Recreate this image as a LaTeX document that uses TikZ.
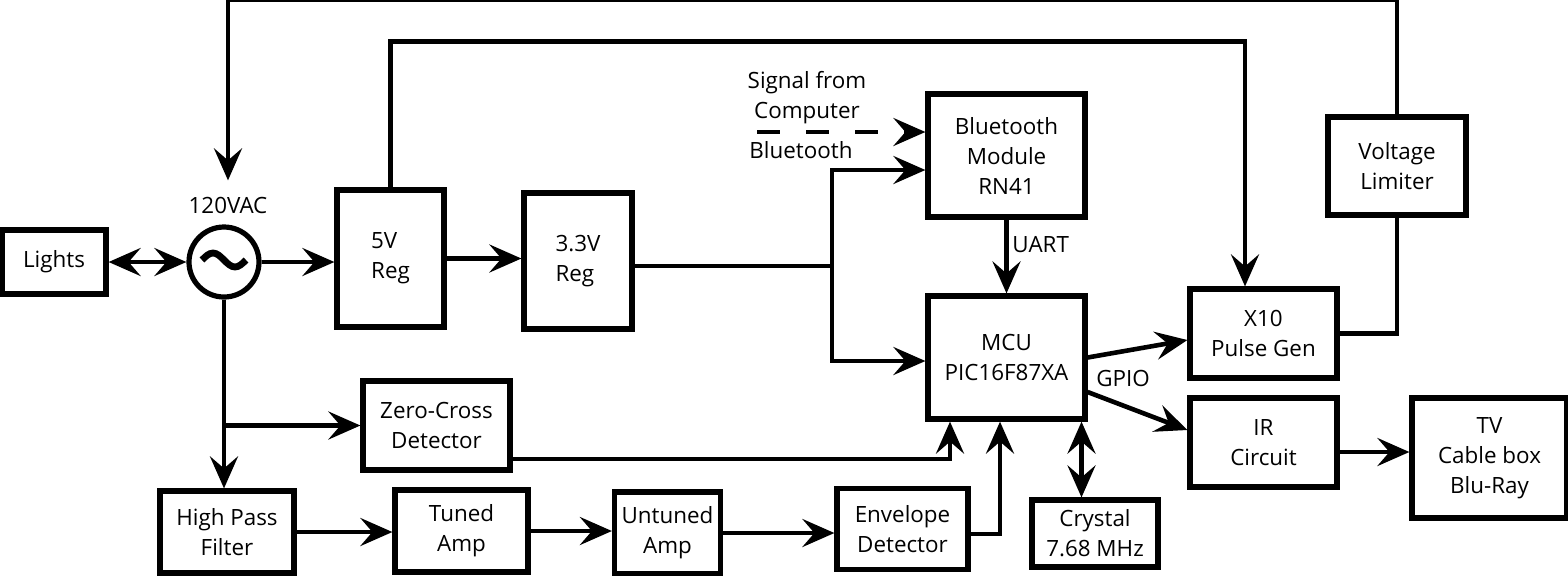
\documentclass[tikz,border=0pt]{standalone}
\usepackage{fontspec}
\setmainfont{Open Sans}
\usepackage{tikz}
\usetikzlibrary{arrows.meta}

\begin{document}
\begin{tikzpicture}[
  x=0.5pt,y=-0.5pt,
  font=\fontsize{11.2}{15}\selectfont,
  blk/.style={draw,line width=2.6pt,align=center,inner sep=0pt},
  wire/.style={line width=2.3pt},
  arr/.style={-{Stealth[length=16pt,width=14pt,inset=6pt]},line width=2.3pt},
  dbl/.style={{Stealth[length=16pt,width=14pt,inset=6pt]}-{Stealth[length=16pt,width=14pt,inset=6pt]},line width=2.3pt},
  lbl/.style={inner sep=0pt,align=center}
]
\useasboundingbox (0,0) rectangle (1568,575);

\node[blk,minimum width=52pt,minimum height=32pt] (lights) at (54,262) {Lights};
\node[draw,circle,line width=2.6pt,minimum size=35pt,inner sep=0pt] (acsrc) at (224,262) {};
\draw[line width=3.4pt] ([xshift=-11pt,yshift=1pt]acsrc.center) sin ++(5.5pt,3.5pt) cos ++(5.5pt,-3.5pt) sin ++(5.5pt,-3.5pt) cos ++(5.5pt,3.5pt);
\node[lbl,inner sep=8pt] (vac) at (228,205) {120VAC};

\node[blk,align=left,minimum width=53.5pt,minimum height=68.5pt] (fivereg) at (390.5,258.5) {5V\\Reg};
\node[blk,align=left,minimum width=54pt,minimum height=68pt] (threereg) at (578,261) {3.3V\\Reg};
\node[blk,minimum width=78.5pt,minimum height=61.5pt] (bt) at (1006.5,155.5) {Bluetooth\\Module\\RN41};
\node[blk,minimum width=78.5pt,minimum height=61.5pt] (mcu) at (1006.5,357.5) {MCU\\PIC16F87XA};
\node[blk,minimum width=69pt,minimum height=49pt] (vlim) at (1397,166) {Voltage\\Limiter};
\node[blk,minimum width=73.5pt,minimum height=44.5pt] (xten) at (1263.5,333.5) {X10\\Pulse Gen};
\node[blk,minimum width=73.5pt,minimum height=44.5pt] (ir) at (1263.5,442.5) {IR\\Circuit};
\node[blk,minimum width=77.5pt,minimum height=60pt] (tv) at (1489.5,458) {TV\\Cable box\\Blu-Ray};
\node[blk,minimum width=63pt,minimum height=33.5pt] (crystal) at (1095,533.5) {Crystal\\7.68 MHz};
\node[blk,minimum width=73.5pt,minimum height=44.5pt] (zc) at (436.5,425.5) {Zero-Cross\\Detector};
\node[blk,minimum width=67pt,minimum height=41pt] (hpf) at (227,532) {High Pass\\Filter};
\node[blk,minimum width=66.5pt,minimum height=41pt] (tuned) at (461.5,531) {Tuned\\Amp};
\node[blk,minimum width=53pt,minimum height=41pt] (untuned) at (667.5,533) {Untuned\\Amp};
\node[blk,minimum width=65.5pt,minimum height=40.5pt] (env) at (902.5,529) {Envelope\\Detector};

\node[lbl] (sigtxt) at (807,98) {Signal from\\Computer};
\node[lbl] (bttxt) at (801,150) {Bluetooth};
\node[lbl,anchor=west] (uart) at (1012,245) {UART};
\node[lbl] (gpio) at (1123,378) {GPIO};

\coordinate (split) at (832,266);
\coordinate (sigstart) at (757,132);

\draw[dbl] (lights) -- (acsrc);
\draw[arr] (acsrc) -- (acsrc -| fivereg.west);
\draw[arr] (fivereg.east) -- (fivereg.east -| threereg.west);
\draw[wire] (threereg.east |- split) -- (split);
\draw[arr] (split) |- ([yshift=-7.25pt]bt.west);
\draw[arr] (split) |- ([yshift=-1.75pt]mcu.west);
\draw[arr,dash pattern=on 11.5pt off 13pt] (sigstart) -- (sigstart -| bt.west);
\draw[arr] (bt) -- (mcu);
\draw[arr] (fivereg.north) -- ++(0,-146) -| ([xshift=-9.25pt]xten.north);
\draw[arr] (vlim.north) -- ++(0,-115) -| (vac.north);
\draw[wire] (xten.east) -| (vlim.south);
\draw[arr] (mcu.east) -- ([yshift=-3.25pt]xten.west);
\draw[arr] ([yshift=-17.25pt]mcu.east) -- ([yshift=6.25pt]ir.west);
\draw[arr] ([yshift=-4.75pt]ir.east) -- ([yshift=-4.75pt]ir.east -| tv.west);
\draw[dbl] ([xshift=-6.75pt]crystal.north) -- ([xshift=-6.75pt]crystal.north |- mcu.south);
\draw[arr] (acsrc) -- (acsrc |- hpf.north);
\draw[arr] (acsrc |- zc.west) -- (zc.west);
\draw[arr] ([yshift=-16.75pt]zc.east) -| ([xshift=-28.25pt]mcu.south);
\draw[arr] (hpf.east) -- (hpf.east -| tuned.west);
\draw[arr] (tuned.east) -- (tuned.east -| untuned.west);
\draw[arr] (untuned.east) -- (untuned.east -| env.west);
\draw[arr] ([yshift=-2.5pt]env.east) -| ([xshift=-3.25pt]mcu.south);
\end{tikzpicture}
\end{document}
